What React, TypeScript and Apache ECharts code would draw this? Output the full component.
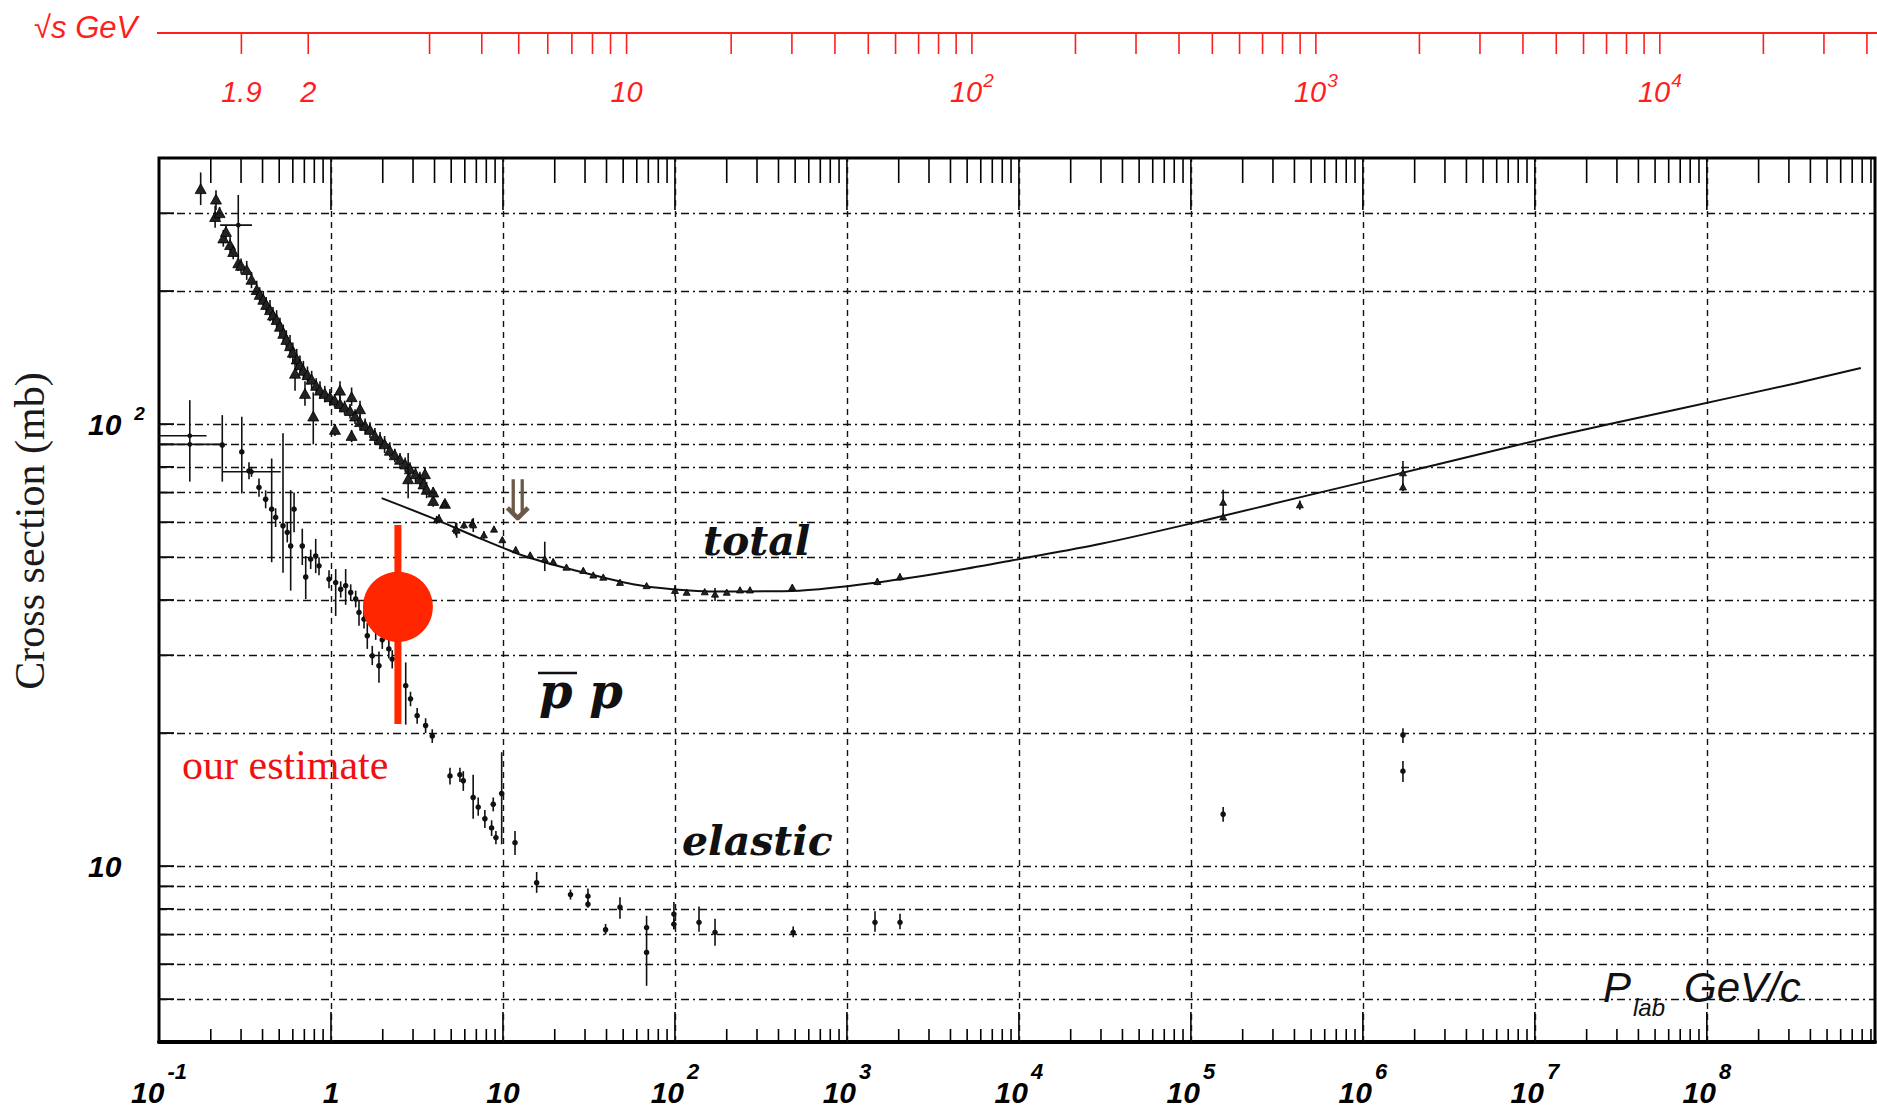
import React, { useEffect, useRef } from 'react';
import * as echarts from 'echarts';

const W = 1877;
const H = 1110;

// ---------- axes ----------
const X_MIN = 0.1;
const X_MAX = 9.5e8;
const Y_MIN = 4;
const Y_MAX = 400;

const xGridValues = [1, 10, 100, 1e3, 1e4, 1e5, 1e6, 1e7, 1e8];
const yGridValues = [5, 6, 7, 8, 9, 10, 20, 30, 40, 50, 60, 70, 80, 90, 100, 200, 300];
const xTickMantissas = [1, 2, 3, 4, 5, 6, 7, 8, 9];
const xTickDecades = [-1, 0, 1, 2, 3, 4, 5, 6, 7, 8];

// sqrt(s) axis (GeV)
const sqrtSTicks = [1.9, 2, 3, 4, 5, 6, 7, 8, 9, 10, 20, 30, 40, 50, 60, 70, 80, 90, 100,
  200, 300, 400, 500, 600, 700, 800, 900, 1000, 2000, 3000, 4000, 5000, 6000, 7000, 8000, 9000,
  10000, 20000, 30000, 40000];
const sqrtSLabelValues = [1.9, 2, 10, 100, 1000, 10000];
const sqrtSLabelBase = ['1.9', '2', '10', '10', '10', '10'];
const sqrtSLabelExp = ['', '', '', '2', '3', '4'];

// ---------- data: [p_lab, sigma, sigma_low, sigma_high] ----------
const totalLowEnergy: number[][] = [
  [0.1747, 340, 313, 371],
  [0.2145, 322, 305, 338],
  [0.212, 294, 278, 312],
  [0.225, 300, 290, 310],
  [0.2366, 263, 252, 275],
  [0.245, 272, 262, 282],
  [0.259, 254, 244, 265],
  [0.27, 245, 236, 254],
  [0.289, 231, 222, 241],
  [0.30, 228, 219, 237],
  [0.3236, 223, 212, 234],
  [0.345, 212, 203, 221],
  [0.370, 201, 192, 211],
  [0.385, 196, 188, 204],
  [0.404, 191, 182, 200],
  [0.42, 186, 178, 194],
  [0.442, 181, 171, 191],
  [0.46, 176, 168, 184],
  [0.483, 172, 164, 181],
  [0.505, 166, 158, 174],
  [0.528, 160, 152, 168],
  [0.55, 155, 147, 163],
  [0.578, 150, 141, 159],
  [0.60, 145, 137, 153],
  [0.632, 140, 132, 148],
  [0.66, 136, 129, 143],
  [0.691, 132, 126, 139],
  [0.73, 129, 123, 135],
  [0.772, 126, 120, 132],
  [0.82, 122, 117, 127],
  [0.863, 119, 114, 125],
  [0.92, 117, 112, 122],
  [0.986, 115, 110, 120],
  [1.05, 113, 109, 117],
  [1.128, 111, 107, 116],
  [1.2, 109, 105, 113],
  [1.29, 107, 103, 111],
  [1.38, 104, 100, 108],
  [1.475, 101, 97, 105],
  [1.58, 99, 95, 103],
  [1.686, 97, 93, 101],
  [1.8, 94, 90, 98],
  [1.928, 92, 88, 96],
  [2.05, 90, 86, 94],
  [2.20, 87, 84, 91],
  [2.35, 85, 82, 88],
  [2.52, 83, 80, 86],
  [2.7, 81, 78, 84],
  [2.88, 79, 76, 82],
  [3.1, 77, 74, 80],
  [3.29, 75, 72, 78],
  [3.45, 73, 70, 76],
  [3.60, 71, 68, 74],
  [3.93, 67, 65, 70],
  [4.60, 66, 65, 67],
  [0.618, 130, 119, 142],
  [0.706, 117, 110, 125],
  [0.789, 104, 90, 118],
  [1.055, 97, 94, 100],
  [1.318, 94, 91, 97],
  [1.318, 115, 110, 121],
  [1.128, 119, 114, 125],
  [1.475, 108, 103, 113],
  [2.81, 75, 68, 86],
  [3.52, 77, 74, 80],
  [3.93, 70, 68, 72],
];

const totalHighEnergy: number[][] = [
  [4.12, 60.7, 59.5, 62],
  [4.25, 61.2, 60, 62.5],
  [4.54, 65.9, 65, 67],
  [5.31, 58.0, 56, 60],
  [5.38, 57.5, 55.3, 59.8],
  [5.93, 59.1, 58, 60.2],
  [6.63, 59.6, 58.2, 61],
  [6.72, 59.1, 57, 61.3],
  [7.75, 56.1, 55, 57.2],
  [8.87, 57.8, 57, 58.6],
  [9.92, 54.7, 54, 55.4],
  [11.86, 51.9, 51, 52.8],
  [14.4, 50.5, 49.8, 51.2],
  [17.5, 49.5, 46.5, 54.2],
  [19.6, 48.8, 48, 49.6],
  [23.4, 47.4, 46.8, 48],
  [29.3, 46.6, 46, 47.2],
  [33.5, 45.5, 45, 46],
  [38.3, 45.0, 44.5, 45.5],
  [47.9, 43.8, 43.3, 44.3],
  [68.4, 43.05, 42.6, 43.5],
  [100, 42.0, 40.8, 43.2],
  [117, 41.6, 41.1, 42.1],
  [149, 41.7, 41.2, 42.2],
  [171, 41.2, 39.8, 42.6],
  [200, 41.6, 41.1, 42.1],
  [239, 42.1, 41.7, 42.5],
  [273, 42.1, 41.7, 42.5],
  [481, 42.7, 42.2, 43.2],
  [1503, 44.0, 43.2, 44.8],
  [2032, 45.1, 44.3, 45.9],
  [1.54e5, 66.5, 62.5, 71.0],
  [1.54e5, 61.6, 60.5, 62.7],
  [4.30e5, 65.6, 64, 67.2],
  [1.71e6, 77.5, 72.8, 82.5],
  [1.71e6, 72.0, 70.5, 73.5],
];

// [p, sigma, sigma_low, sigma_high, p_low, p_high]
const totalCrosses: number[][] = [
  [0.289, 282, 239, 330, 0.2265, 0.3475],
];
const elasticCrosses: number[][] = [
  [0.151, 94.1, 74.1, 113.3, 0.1, 0.189],
  [0.151, 90.0, 89.0, 91.0, 0.1, 0.228],
  [0.345, 78.0, 76.0, 80.0, 0.2333, 0.51],
];

const elastic: number[][] = [
  [0.2333, 89.7, 74.1, 104.8],
  [0.303, 86.5, 69.7, 103.9],
  [0.3336, 78.4, 75, 82],
  [0.3814, 71.9, 68.5, 75.3],
  [0.417, 67.6, 64.5, 70.8],
  [0.452, 64.2, 48.7, 83.6],
  [0.4766, 61.5, 58.5, 64.5],
  [0.526, 58.9, 46.1, 95.3],
  [0.557, 56.9, 54, 60],
  [0.583, 53.0, 42.0, 70.9],
  [0.610, 64.2, 56.9, 70.0],
  [0.681, 53.0, 48, 58],
  [0.713, 45.1, 40.2, 50.3],
  [0.762, 49.5, 47, 52],
  [0.815, 50.3, 46, 55],
  [0.852, 47.8, 45.5, 50],
  [0.974, 44.6, 42.5, 46.7],
  [1.065, 43.8, 36.8, 47.0],
  [1.139, 42.3, 40.5, 44.1],
  [1.217, 43.1, 39, 47],
  [1.302, 41.6, 39.8, 43.4],
  [1.392, 40.2, 38.5, 42],
  [1.455, 37.5, 35, 40],
  [1.556, 36.2, 34.5, 38],
  [1.626, 33.2, 31, 35.5],
  [1.738, 29.9, 28.5, 31.5],
  [1.82, 34.2, 32.5, 36],
  [1.901, 28.4, 26, 30.6],
  [1.987, 32.5, 31, 34],
  [2.17, 31.0, 29.5, 32.5],
  [2.27, 29.4, 28, 30.8],
  [2.72, 25.6, 20.9, 28.9],
  [2.90, 23.9, 23, 24.8],
  [3.17, 21.9, 21, 22.8],
  [3.55, 20.8, 20, 21.6],
  [3.88, 19.7, 19, 20.4],
  [4.92, 16.0, 15.3, 16.7],
  [5.62, 16.1, 15.5, 16.7],
  [5.88, 15.6, 14.8, 16.4],
  [6.71, 14.3, 12.8, 16.1],
  [7.18, 13.6, 13, 14.3],
  [7.85, 12.8, 12.2, 13.4],
  [8.59, 12.2, 11.7, 12.7],
  [8.78, 13.8, 13.3, 14.3],
  [9.10, 11.6, 11.2, 12.0],
  [9.83, 14.6, 11.2, 18.1],
  [11.75, 11.3, 10.6, 12.0],
  [15.7, 9.17, 8.7, 9.7],
  [24.7, 8.62, 8.4, 8.85],
  [31.2, 8.55, 8.2, 8.9],
  [31.2, 8.2, 8.05, 8.35],
  [39.5, 7.18, 7.0, 7.4],
  [47.9, 8.07, 7.6, 8.5],
  [68.4, 7.26, 7.0, 7.72],
  [68.4, 6.38, 5.36, 7.0],
  [98.6, 7.79, 7.2, 8.3],
  [98.6, 7.39, 7.2, 7.6],
  [138, 7.46, 7.1, 8.1],
  [171, 7.08, 6.6, 7.6],
  [487, 7.08, 6.9, 7.3],
  [1456, 7.46, 7.1, 7.9],
  [2035, 7.46, 7.2, 7.8],
  [1.54e5, 13.1, 12.6, 13.6],
  [1.71e6, 19.8, 19.0, 20.5],
  [1.71e6, 16.4, 15.5, 17.3],
];

// fitted curve for total cross section [p, sigma]
const totalFit: number[][] = [
  [1.97, 68.0], [3.80, 61.5], [7.21, 55.3], [13.7, 50.1], [26.0, 46.7], [57.0, 43.4],
  [96.7, 42.3], [178, 41.8], [528, 42.0], [1547, 43.9], [4381, 46.7], [9763, 49.4],
  [3.0e4, 53.6], [1.08e5, 60.0], [5.36e5, 69.7], [2.66e6, 80.9], [1.32e7, 94.0],
  [6.56e7, 107.8], [3.26e8, 123.6], [7.86e8, 134],
];

// our estimate [p, sigma, low, high]
const estimate: number[][] = [[2.45, 38.6, 20.96, 59.1]];

// ---------- helpers ----------
const M_P = 0.938272;
function plabFromSqrtS(w: number): number {
  const s = w * w;
  const e = (s - 2 * M_P * M_P) / (2 * M_P);
  return Math.sqrt(e * e - M_P * M_P);
}

const RED = '#ff1e1e';
const SANS = '"Liberation Sans", Arial, sans-serif';

function errRender(marker: 'tri' | 'dot', size: number, withX: boolean) {
  return (params: any, api: any) => {
    const p = api.value(0);
    const s = api.value(1);
    const lo = api.value(2);
    const hi = api.value(3);
    const c = api.coord([p, s]);
    const a = api.coord([p, lo]);
    const b = api.coord([p, hi]);
    const children: any[] = [
      { type: 'line', shape: { x1: c[0], y1: a[1], x2: c[0], y2: b[1] }, style: { stroke: '#111', lineWidth: 1.6 } },
    ];
    if (withX) {
      const l = api.coord([api.value(4), s]);
      const r = api.coord([api.value(5), s]);
      children.push({ type: 'line', shape: { x1: l[0], y1: c[1], x2: r[0], y2: c[1] }, style: { stroke: '#111', lineWidth: 1.6 } });
    }
    if (marker === 'tri') {
      children.push({
        type: 'polygon',
        shape: { points: [[c[0], c[1] - size], [c[0] - size, c[1] + size * 0.8], [c[0] + size, c[1] + size * 0.8]] },
        style: { fill: '#222', stroke: '#000', lineWidth: 0.8 },
      });
    } else {
      children.push({ type: 'circle', shape: { cx: c[0], cy: c[1], r: size }, style: { fill: '#111' } });
    }
    return { type: 'group', children };
  };
}

function buildOption() {
  const xTicks: number[][] = [];
  xTickDecades.forEach((d) => {
    xTickMantissas.forEach((m) => {
      const v = m * Math.pow(10, d);
      if (v > X_MIN * 1.0001 && v < X_MAX) xTicks.push([v, m === 1 ? 1 : 0]);
    });
  });
  const yTicks = yGridValues.map((v) => [1, v]);
  const redTicks = sqrtSTicks.map((w) => [plabFromSqrtS(w), 10]);
  const redLabels = sqrtSLabelValues.map((w, i) => [plabFromSqrtS(w), 10, i]);

  const labelFont = { fontFamily: SANS, fontWeight: 'bold', fontStyle: 'italic', color: '#000' };

  return {
    animation: false,
    backgroundColor: '#fff',
    grid: {
      left: 159,
      right: 2,
      top: 158,
      bottom: 68,
      show: true,
      containLabel: false,
      outerBoundsMode: 'none',
      borderColor: '#000',
      borderWidth: 3,
      backgroundColor: 'transparent',
    },
    xAxis: {
      type: 'log',
      logBase: 10,
      min: X_MIN,
      max: X_MAX,
      splitNumber: 10,
      axisLine: { show: true, onZero: false, lineStyle: { color: '#000', width: 4 } },
      axisTick: { show: false },
      splitLine: { show: false },
      axisLabel: {
        margin: 35,
        formatter: (v: number) => {
          const e = Math.log10(v);
          const r = Math.round(e);
          if (Math.abs(e - r) > 1e-6 || r > 8) return '';
          if (r === 0) return '{c|1}';
          if (r === 1) return '{c|10}';
          return '{b|10}{e|' + r + '}';
        },
        rich: {
          b: { ...labelFont, fontSize: 30, lineHeight: 30 },
          c: { ...labelFont, fontSize: 30, lineHeight: 30, padding: [18, 0, 18, 0] },
          e: { ...labelFont, fontSize: 22, lineHeight: 22, padding: [0, 0, 42, 3] },
        },
      },
    },
    yAxis: {
      type: 'log',
      logBase: 10,
      min: Y_MIN,
      max: Y_MAX,
      axisLine: { show: false },
      axisTick: { show: false },
      splitLine: { show: false },
      axisLabel: {
        margin: 71,
        align: 'left',
        formatter: (v: number) => {
          const e = Math.log10(v);
          const r = Math.round(e);
          if (Math.abs(e - r) > 1e-6) return '';
          if (r === 1) return '{b|10}';
          return '{b|10}{e|' + r + '}';
        },
        rich: {
          b: { ...labelFont, fontSize: 30, lineHeight: 30 },
          e: { ...labelFont, fontSize: 19, lineHeight: 19, padding: [0, 0, 21, 13] },
        },
      },
    },
    series: [
      {
        name: 'fit',
        type: 'line',
        data: totalFit,
        smooth: 0.3,
        symbol: 'none',
        lineStyle: { color: '#111', width: 2 },
        z: 3,
        markLine: {
          silent: true,
          symbol: ['none', 'none'],
          label: { show: false },
          animation: false,
          lineStyle: { color: '#111', width: 1.4 },
          data: [
            ...yGridValues.map((v) => ({ yAxis: v, lineStyle: { color: '#111', width: 1.4, type: [8, 4, 2, 4] } })),
            ...xGridValues.map((v) => ({ xAxis: v, lineStyle: { color: '#111', width: 1.4, type: [6, 5] } })),
          ],
        },
      },
      {
        name: 'ticks',
        type: 'custom',
        clip: false,
        silent: true,
        data: xTicks,
        encode: { x: 0 },
        renderItem: (params: any, api: any) => {
          const v = api.value(0);
          const major = api.value(1) === 1;
          const cs = params.coordSys;
          const px = api.coord([v, 10])[0];
          const yb = cs.y + cs.height;
          const yt = cs.y;
          const lb = major ? 30 : 13;
          const lt = major ? 52 : 25;
          return {
            type: 'group',
            children: [
              { type: 'line', shape: { x1: px, y1: yb, x2: px, y2: yb - lb }, style: { stroke: '#000', lineWidth: 1.6 } },
              { type: 'line', shape: { x1: px, y1: yt, x2: px, y2: yt + lt }, style: { stroke: '#000', lineWidth: 1.6 } },
            ],
          };
        },
      },
      {
        name: 'yticks',
        type: 'custom',
        clip: false,
        silent: true,
        data: yTicks,
        renderItem: (params: any, api: any) => {
          const cs = params.coordSys;
          const py = api.coord([1, api.value(1)])[1];
          return { type: 'line', shape: { x1: cs.x, y1: py, x2: cs.x + 15, y2: py }, style: { stroke: '#000', lineWidth: 1.8 } };
        },
      },
      {
        name: 'sqrt s ticks',
        type: 'custom',
        clip: false,
        silent: true,
        data: redTicks,
        renderItem: (params: any, api: any) => {
          const px = api.coord([api.value(0), 10])[0];
          return { type: 'line', shape: { x1: px, y1: 33, x2: px, y2: 54 }, style: { stroke: RED, lineWidth: 1.6 } };
        },
      },
      {
        name: 'sqrt s labels',
        type: 'custom',
        clip: false,
        silent: true,
        data: redLabels,
        renderItem: (params: any, api: any) => {
          const px = api.coord([api.value(0), 10])[0];
          const i = api.value(2);
          const base = sqrtSLabelBase[i];
          const ex = sqrtSLabelExp[i];
          const text = ex ? '{b|' + base + '}{e|' + ex + '}' : '{b|' + base + '}';
          return {
            type: 'text',
            x: px,
            y: 92,
            style: {
              text,
              align: 'center',
              verticalAlign: 'middle',
              rich: {
                b: { fontFamily: SANS, fontStyle: 'italic', fontSize: 29, lineHeight: 29, fill: RED },
                e: { fontFamily: SANS, fontStyle: 'italic', fontSize: 19, lineHeight: 19, fill: RED, padding: [0, 0, 24, 1] },
              },
            },
          };
        },
      },
      {
        name: 'total (low energy)',
        type: 'custom',
        data: totalLowEnergy,
        encode: { x: 0, y: 1 },
        renderItem: errRender('tri', 5.5, false),
        z: 4,
      },
      {
        name: 'total crosses',
        type: 'custom',
        data: totalCrosses,
        encode: { x: 0, y: 1 },
        renderItem: errRender('dot', 2.5, true),
        z: 4,
      },
      {
        name: 'total',
        type: 'custom',
        data: totalHighEnergy,
        encode: { x: 0, y: 1 },
        renderItem: errRender('tri', 3.5, false),
        z: 4,
      },
      {
        name: 'elastic',
        type: 'custom',
        data: elastic,
        encode: { x: 0, y: 1 },
        renderItem: errRender('dot', 2.8, false),
        z: 4,
      },
      {
        name: 'elastic crosses',
        type: 'custom',
        data: elasticCrosses,
        encode: { x: 0, y: 1 },
        renderItem: errRender('dot', 2.4, true),
        z: 4,
      },
      {
        name: 'our estimate',
        type: 'custom',
        data: estimate,
        encode: { x: 0, y: 1 },
        z: 10,
        renderItem: (params: any, api: any) => {
          const c = api.coord([api.value(0), api.value(1)]);
          const a = api.coord([api.value(0), api.value(2)]);
          const b = api.coord([api.value(0), api.value(3)]);
          return {
            type: 'group',
            children: [
              { type: 'line', shape: { x1: c[0], y1: a[1], x2: c[0], y2: b[1] }, style: { stroke: '#ff2600', lineWidth: 7 } },
              { type: 'circle', shape: { cx: c[0], cy: c[1], r: 35 }, style: { fill: '#ff2600' } },
            ],
          };
        },
      },
    ],
    graphic: [
      { type: 'line', z: 20, shape: { x1: 157, y1: 33, x2: W, y2: 33 }, style: { stroke: RED, lineWidth: 2 } },
      { type: 'text', z: 20, x: 34, y: 27, style: { text: '√s GeV', font: 'italic 31px ' + SANS, fill: RED, verticalAlign: 'middle' } },
      {
        type: 'text', z: 20, x: 30, y: 531, rotation: Math.PI / 2,
        style: { text: 'Cross section (mb)', font: '42px "Liberation Serif", serif', fill: '#1a1a1a', align: 'center', verticalAlign: 'middle' },
      },
      { type: 'text', z: 20, x: 182, y: 765, style: { text: 'our estimate', font: '42px "Liberation Serif", serif', fill: '#f01010', verticalAlign: 'middle' } },
      { type: 'text', z: 20, x: 703, y: 541, style: { text: 'total', font: 'italic bold 41px "DejaVu Serif", serif', fill: '#111', verticalAlign: 'middle' } },
      { type: 'text', z: 20, x: 682, y: 841, style: { text: 'elastic', font: 'italic bold 41px "DejaVu Serif", serif', fill: '#111', verticalAlign: 'middle' } },
      { type: 'text', z: 20, x: 539, y: 691, style: { text: 'p p', font: 'italic bold 48px "DejaVu Serif", serif', fill: '#111', verticalAlign: 'middle' } },
      { type: 'line', z: 20, shape: { x1: 538, y1: 673, x2: 577, y2: 673 }, style: { stroke: '#111', lineWidth: 2.5 } },
      { type: 'text', z: 20, x: 518, y: 500, style: { text: '⇓', font: '56px "DejaVu Sans", sans-serif', fill: '#6b5a45', align: 'center', verticalAlign: 'middle' } },
      { type: 'text', z: 20, x: 1603, y: 987, style: { text: 'P', font: 'italic 42px ' + SANS, fill: '#111', verticalAlign: 'middle' } },
      { type: 'text', z: 20, x: 1633, y: 1007, style: { text: 'lab', font: 'italic 24px ' + SANS, fill: '#111', verticalAlign: 'middle' } },
      { type: 'text', z: 20, x: 1684, y: 987, style: { text: 'GeV/c', font: 'italic 42px ' + SANS, fill: '#111', verticalAlign: 'middle' } },
    ],
  };
}

export default function App() {
  const ref = useRef<HTMLDivElement>(null);
  useEffect(() => {
    document.body.style.margin = '0';
    const chart = echarts.init(ref.current as HTMLDivElement, null, { renderer: 'svg' });
    chart.setOption(buildOption() as any);
    return () => {
      chart.dispose();
    };
  }, []);
  return <div ref={ref} style={{ width: W, height: H, background: '#fff' }} />;
}
